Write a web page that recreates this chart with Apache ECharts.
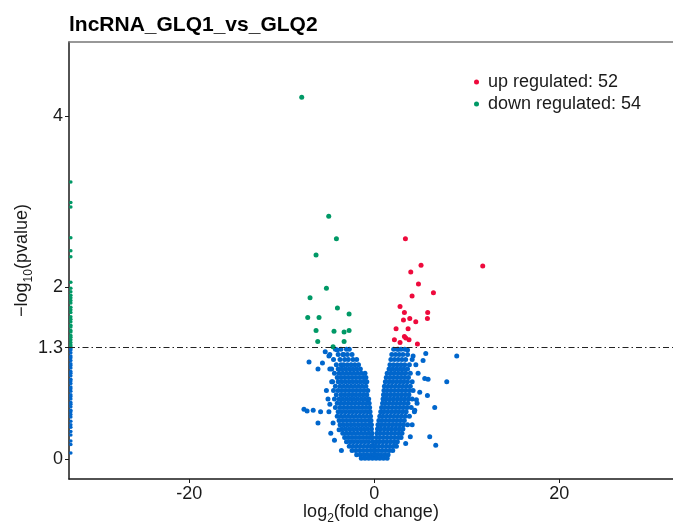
<!DOCTYPE html>
<html><head><meta charset="utf-8">
<script src="https://cdn.jsdelivr.net/npm/echarts@6/dist/echarts.min.js"></script>
<style>html,body{margin:0;padding:0;background:#fff}#c{width:673px;height:525px}</style>
</head><body><div id="c"></div>
<script>
const titleText = 'lncRNA_GLQ1_vs_GLQ2';
const legendNames = ['up regulated: 52', 'down regulated: 54'];
const xTicks = [-20, 0, 20];
const yTicks = [0, 1.3, 2, 4];
const threshold = 1.3;
const xRange = [-33.0, 32.3];
const yRange = [-0.233, 4.863];

const upPoints = [[3.37,2.57],[5.06,2.26],[3.95,2.18],[4.78,2.04],[6.40,1.94],[4.09,1.90],[2.79,1.78],[3.26,1.71],[5.78,1.71],[3.84,1.64],[5.75,1.64],[3.16,1.62],[4.49,1.60],[2.36,1.52],[3.66,1.52],[3.26,1.43],[3.41,1.41],[2.18,1.39],[2.79,1.36],[3.76,1.39],[4.67,1.34],[11.73,2.25]];
const downPoints = [[-7.84,4.22],[-4.92,2.83],[-4.09,2.57],[-6.29,2.38],[-5.17,1.99],[-6.94,1.88],[-3.98,1.76],[-2.72,1.69],[-7.19,1.65],[-5.97,1.65],[-6.29,1.50],[-4.35,1.49],[-3.26,1.48],[-2.72,1.50],[-6.11,1.37],[-3.26,1.37],[-4.45,1.31]];
const edgeX = -32.8;
const downEdgeY = [3.23,2.99,2.94,2.58,2.43,2.36,2.06,1.99,1.95,1.91,1.88,1.85,1.82,1.77,1.74,1.71,1.66,1.63,1.6,1.56,1.54,1.5,1.48,1.44,1.42,1.39,1.36,1.33,1.31];
const blueEdgeY = [1.29,1.27,1.24,1.2,1.18,1.15,1.11,1.09,1.06,1.02,1.0,0.97,0.93,0.91,0.88,0.84,0.82,0.79,0.75,0.73,0.7,0.66,0.64,0.61,0.57,0.55,0.52,0.49,0.44,0.4,0.37,0.32,0.28,0.21,0.17,0.07];
const blueScatter = [[-7.05,1.13],[-5.6,1.12],[-6.08,1.05],[-4.8,1.05],[-5.17,0.8],[-4.8,0.64],[-7.6,0.58],[-7.26,0.56],[-6.6,0.57],[-5.8,0.55],[-6.08,0.42],[-4.9,0.55],[-4.45,0.42],[-3.55,0.1],[-3.8,0.34],[-5.0,0.7],[-4.9,1.2],[-5.3,1.25],[-4.0,1.27],[-3.3,1.22],[-4.6,0.9],[-4.7,0.3],[-4.3,0.22],
  [8.92,1.2],[7.84,0.9],[6.54,0.6],[6.0,0.26],[6.65,0.16],[5.46,0.94],[5.82,0.93],[5.57,1.23],[5.28,1.15],[4.74,1.0],[4.63,0.65],[4.38,0.57],[4.92,0.78],[5.75,0.74],[4.56,0.69],[4.34,0.55],[3.9,0.26],[3.4,0.18],[4.1,0.4],[4.5,1.1],[3.6,1.27],[2.6,1.28],[4.2,1.2]];
const blueRows = [
  [1.28, [-4.2,-3.6,-3.0,-2.7, 2.1,2.5,2.9,3.3]],
  [1.22, [-4.8,-3.9,-3.4,-2.9,-2.4, 1.9,2.3,2.7,3.1,3.6]],
  [1.16, [-4.4,-3.7,-3.2,-2.8,-2.3,-1.9, 1.8,2.2,2.6,3.0,3.4,4.1]],
  [1.10, [-4.1,-3.6,-3.3,-2.9,-2.5,-2.1,-1.7, 1.7,2.1,2.5,2.9,3.3,3.8]],
  [1.05, [-4.6,-3.9,-3.5,-3.1,-2.7,-2.3,-1.9,-1.5, 1.6,2.0,2.4,2.8,3.2,3.6]],
  [1.00, [-4.3,-3.8,-3.4,-3.0,-2.6,-2.2,-1.8,-1.4,-1.0, 1.4,1.8,2.2,2.6,3.0,3.4,3.9]],
  [0.95, [-4.0,-3.6,-3.2,-2.8,-2.4,-2.0,-1.6,-1.2,-0.9, 1.3,1.7,2.1,2.5,2.9,3.3,3.7]],
  [0.90, [-4.5,-3.9,-3.5,-3.1,-2.7,-2.3,-1.9,-1.5,-1.1,-0.8, 1.2,1.6,2.0,2.4,2.8,3.2,3.6,4.1]],
  [0.85, [-4.2,-3.7,-3.3,-2.9,-2.5,-2.1,-1.7,-1.3,-0.9, 1.1,1.5,1.9,2.3,2.7,3.1,3.5,3.9]],
  [0.80, [-4.4,-3.9,-3.5,-3.1,-2.7,-2.3,-1.9,-1.5,-1.1,-0.7, 1.05,1.4,1.8,2.2,2.6,3.0,3.4,3.8,4.2]],
  [0.75, [-4.1,-3.6,-3.2,-2.8,-2.4,-2.0,-1.6,-1.2,-0.8, 1.0,1.35,1.75,2.15,2.55,2.95,3.35,3.75]],
  [0.70, [-4.3,-3.8,-3.4,-3.0,-2.6,-2.2,-1.8,-1.4,-1.0,-0.6, 0.95,1.3,1.7,2.1,2.5,2.9,3.3,3.7,4.1]],
  [0.65, [-4.0,-3.6,-3.2,-2.8,-2.4,-2.0,-1.6,-1.2,-0.8,-0.55, 0.9,1.25,1.65,2.05,2.45,2.85,3.25,3.65]],
  [0.60, [-4.2,-3.7,-3.3,-2.9,-2.5,-2.1,-1.7,-1.3,-0.9,-0.5, 0.8,1.15,1.55,1.95,2.35,2.75,3.15,3.55,4.0]],
  [0.55, [-3.9,-3.5,-3.1,-2.7,-2.3,-1.9,-1.5,-1.1,-0.7,-0.45, 0.7,1.05,1.45,1.85,2.25,2.65,3.05,3.45]],
  [0.50, [-4.0,-3.6,-3.2,-2.8,-2.4,-2.0,-1.6,-1.2,-0.8,-0.4, 0.6,0.95,1.35,1.75,2.15,2.55,2.95,3.35,3.8]],
  [0.45, [-3.8,-3.4,-3.0,-2.6,-2.2,-1.8,-1.4,-1.0,-0.6,-0.35, 0.5,0.85,1.25,1.65,2.05,2.45,2.85,3.25]],
  [0.40, [-3.7,-3.3,-2.9,-2.5,-2.1,-1.7,-1.3,-0.9,-0.5,-0.3, 0.4,0.75,1.15,1.55,1.95,2.35,2.75,3.15,3.6]],
  [0.35, [-3.5,-3.1,-2.7,-2.3,-1.9,-1.5,-1.1,-0.7,-0.3, 0.35,0.7,1.1,1.5,1.9,2.3,2.7,3.1]],
  [0.30, [-3.4,-3.0,-2.6,-2.2,-1.8,-1.4,-1.0,-0.6,-0.25, 0.3,0.65,1.05,1.45,1.85,2.25,2.65,3.0]],
  [0.25, [-3.2,-2.8,-2.4,-2.0,-1.6,-1.2,-0.8,-0.45,-0.2, 0.25,0.6,1.0,1.4,1.8,2.2,2.6,2.9]],
  [0.20, [-3.0,-2.6,-2.2,-1.8,-1.4,-1.0,-0.6,-0.15, 0.2,0.55,0.95,1.35,1.75,2.15,2.5]],
  [0.15, [-2.7,-2.3,-1.9,-1.5,-1.1,-0.7,-0.35,-0.1, 0.15,0.5,0.9,1.3,1.7,2.1,2.4]],
  [0.10, [-2.4,-2.0,-1.6,-1.2,-0.8,-0.4,-0.05, 0.1,0.45,0.85,1.25,1.65,2.0]],
  [0.05, [-1.9,-1.5,-1.1,-0.7,-0.3, 0.0,0.3,0.7,1.1,1.5]],
  [0.01, [-1.4,-1.0,-0.6,-0.2, 0.2,0.6,1.0,1.4]]
];

const colors = { up: '#EE0A3C', down: '#009966', none: '#0066CC' };
const font = 'Liberation Sans, Arial, sans-serif';

const blueData = blueRows.flatMap(([y, xs]) => xs.map(x => [x, y]))
  .concat(blueScatter)
  .concat(blueEdgeY.map(y => [edgeX, y]));
const downData = downPoints.concat(downEdgeY.map(y => [edgeX, y]));
const sizeFn = v => (v[0] === edgeX ? 3.5 : 5);

const chart = echarts.init(document.getElementById('c'), null, { renderer: 'canvas' });
const axisColor = '#1a1a1a';
const richName = {
  a: { fontSize: 18, fontFamily: font, color: axisColor, lineHeight: 24 },
  s: { fontSize: 12, fontFamily: font, color: axisColor, lineHeight: 24, verticalAlign: 'bottom', padding: [0, 0, -1, 0] }
};
chart.setOption({
  animation: false,
  title: { text: titleText, left: 64, top: 10, textStyle: { fontSize: 21, fontWeight: 'bold', color: '#000', fontFamily: font } },
  legend: {
    data: legendNames.map(n => ({ name: n, icon: 'circle' })),
    orient: 'vertical', left: 469, top: 68, itemWidth: 5, itemHeight: 5, itemGap: 4,
    textStyle: { fontSize: 18, color: axisColor, fontFamily: font, padding: [0, 0, 0, 4] }
  },
  grid: { left: 69, right: 0, top: 42, bottom: 46, containLabel: false, outerBoundsMode: 'none' },
  xAxis: [{
    type: 'value', min: xRange[0], max: xRange[1],
    axisLine: { show: true, onZero: false, lineStyle: { color: axisColor, width: 1.5 } },
    axisTick: { show: true, customValues: xTicks, length: 4, lineStyle: { color: axisColor } },
    axisLabel: { customValues: xTicks, fontSize: 18, color: axisColor, fontFamily: font, margin: 6 },
    splitLine: { show: false },
    name: '{a|log}{s|2}{a|(fold change)}', nameLocation: 'middle', nameGap: 21,
    nameMoveOverlap: false,
    nameTextStyle: { rich: richName }
  }, {
    type: 'value', position: 'top', min: xRange[0], max: xRange[1],
    axisLine: { show: true, onZero: false, lineStyle: { color: '#777', width: 1.5 } },
    axisTick: { show: false }, axisLabel: { show: false }, splitLine: { show: false }
  }],
  yAxis: {
    type: 'value', min: yRange[0], max: yRange[1],
    axisLine: { show: true, onZero: false, lineStyle: { color: axisColor, width: 1.5 } },
    axisTick: { show: true, customValues: yTicks, length: 4, lineStyle: { color: axisColor } },
    axisLabel: { customValues: yTicks, fontSize: 18, color: axisColor, fontFamily: font, margin: 6 },
    splitLine: { show: false },
    name: '{a|\u2212log}{s|10}{a|(pvalue)}', nameLocation: 'middle', nameGap: 35, nameRotate: 90,
    nameMoveOverlap: false,
    nameTextStyle: { rich: richName }
  },
  series: [
    {
      name: 'none', type: 'scatter', data: blueData, symbolSize: sizeFn,
      itemStyle: { color: colors.none, opacity: 1 },
      markLine: {
        silent: true, symbol: ['none', 'none'], label: { show: false },
        lineStyle: { color: '#222', width: 1, type: [6, 3, 1.5, 3] },
        data: [{ yAxis: threshold }]
      }
    },
    { name: legendNames[1], type: 'scatter', data: downData, symbolSize: sizeFn, itemStyle: { color: colors.down, opacity: 1 } },
    { name: legendNames[0], type: 'scatter', data: upPoints, symbolSize: 5, itemStyle: { color: colors.up, opacity: 1 } }
  ]
});
</script></body></html>
